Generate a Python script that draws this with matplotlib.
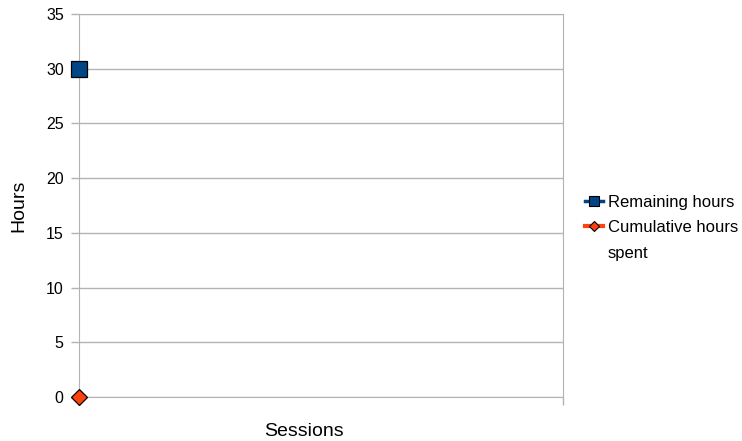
import matplotlib
matplotlib.use("Agg")
import matplotlib.pyplot as plt
from matplotlib.lines import Line2D

# -------------------- DATA --------------------
sessions = [0]
remaining_hours = [30]
cumulative_hours = [0]
y_ticks = [0, 5, 10, 15, 20, 25, 30, 35]
series_labels = ["Remaining hours", "Cumulative hours spent"]
# ----------------------------------------------

BLUE = "#004586"
ORANGE = "#ff420e"
GRID = "#b3b3b3"

plt.rcParams["font.family"] = ["Liberation Sans", "DejaVu Sans"]

fig = plt.figure(figsize=(7.42, 4.41), dpi=100)
ax = fig.add_axes([79 / 742, 1 - 397 / 441, 484 / 742, 383 / 441])

ax.plot(sessions, remaining_hours, marker="s", markersize=11.5, color=BLUE,
        markeredgecolor="black", markeredgewidth=0.9, linestyle="none", clip_on=False, zorder=5)
ax.plot(sessions, cumulative_hours, marker="D", markersize=8.1, color=ORANGE,
        markeredgecolor="black", markeredgewidth=0.9, linestyle="none", clip_on=False, zorder=5)

ax.set_xlim(0, 1)
ax.set_ylim(0, 35)
ax.set_yticks(y_ticks)
ax.set_xticks([0, 1])
ax.set_xticklabels([])
ax.yaxis.grid(True, color=GRID, linewidth=1)
ax.set_axisbelow(True)
for side in ["left", "right", "top", "bottom"]:
    ax.spines[side].set_color(GRID)
ax.tick_params(axis="both", colors=GRID, length=6, width=1, direction="out")
ax.tick_params(axis="y", labelcolor="black", labelsize=11.5, pad=5)

ax.set_ylabel("Hours", fontsize=14)
ax.set_xlabel("Sessions", fontsize=14)
ax.yaxis.set_label_coords(-0.107, 0.5)
ax.xaxis.set_label_coords(0.465, -0.068)

# legend: wrap the long label onto a second row like the original
handles = [
    Line2D([], [], color=BLUE, lw=2.5, marker="s", markersize=6.5,
           markerfacecolor=BLUE, markeredgecolor="black", markeredgewidth=0.8),
    Line2D([], [], color=ORANGE, lw=3, marker="D", markersize=5,
           markerfacecolor=ORANGE, markeredgecolor="black", markeredgewidth=0.8),
    Line2D([], [], linestyle="none"),
]
first, rest = series_labels[1].rsplit(" ", 1)
labels = [series_labels[0], first, rest]
fig.legend(handles, labels, loc="upper left", bbox_to_anchor=(585 / 742, 1 - 195 / 441),
           frameon=False, fontsize=12, handlelength=1.1, handletextpad=0.25,
           labelspacing=0.62, borderaxespad=0, borderpad=0)

fig.savefig("out.png", dpi=100)
